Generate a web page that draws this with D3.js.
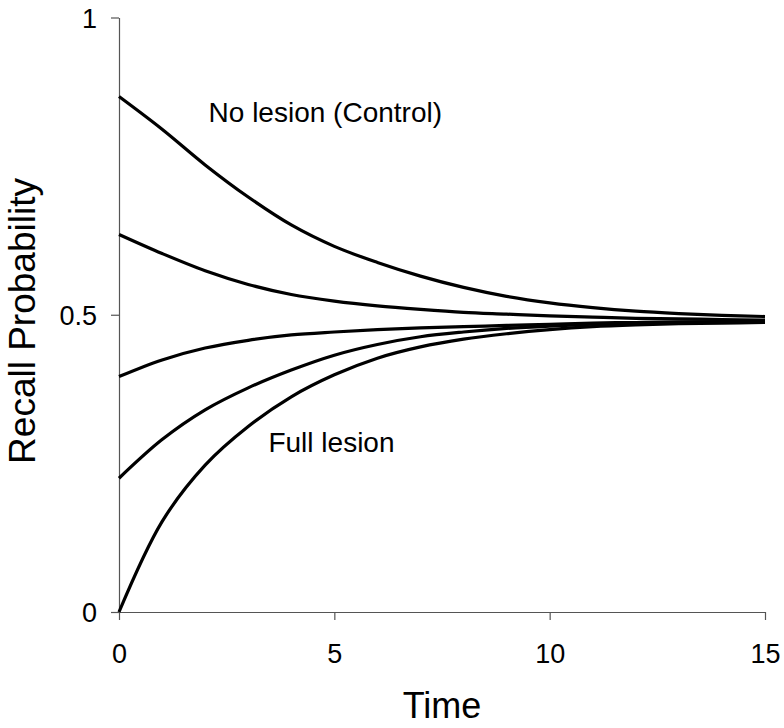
<!DOCTYPE html>
<html>
<head>
<meta charset="utf-8">
<script src="https://cdn.jsdelivr.net/npm/d3@7"></script>
<style>
  body { margin: 0; background: #fff; }
  text { font-family: "Liberation Sans", Arial, sans-serif; fill: #000; }
</style>
</head>
<body>
<svg id="chart" width="784" height="728"></svg>
<script>
// Data
const times = [0,1,2,3,4,5,6,7,8,9,10,11,12,13,14,15];
const noLesion   = [0.867,0.812,0.752,0.698,0.651,0.615,0.588,0.565,0.546,0.531,0.520,0.512,0.506,0.502,0.499,0.497];
const lesion25   = [0.635,0.603,0.574,0.551,0.534,0.523,0.515,0.509,0.504,0.501,0.498,0.496,0.494,0.493,0.492,0.491];
const lesion50   = [0.396,0.424,0.444,0.457,0.466,0.471,0.475,0.478,0.480,0.482,0.484,0.486,0.487,0.488,0.488,0.489];
const lesion75   = [0.225,0.290,0.340,0.377,0.407,0.432,0.450,0.463,0.471,0.477,0.481,0.484,0.486,0.487,0.488,0.488];
const fullLesion = [0.000,0.152,0.247,0.312,0.362,0.399,0.427,0.446,0.459,0.468,0.475,0.480,0.483,0.485,0.486,0.487];
const seriesList = [noLesion, lesion25, lesion50, lesion75, fullLesion];
const xTicks = [0,5,10,15];
const yTicks = [0,0.5,1];
const yTickLabels = ["0","0.5","1"];
const xTitle = "Time";
const yTitle = "Recall Probability";
const annotations = [
  {text: "No lesion (Control)", t: 2.08, v: 0.825},
  {text: "Full lesion", t: 3.47, v: 0.2685}
];

const svg = d3.select("#chart");
const x = d3.scaleLinear().domain([0,15]).range([119,765]);
const y = d3.scaleLinear().domain([0,1]).range([612,17.5]);

// Axes
const yAxis = d3.axisLeft(y).tickValues(yTicks).tickSize(8).tickSizeOuter(0)
  .tickFormat((d,i) => yTickLabels[i]);
const gy = svg.append("g").attr("transform", `translate(${x(0)},0)`).call(yAxis);
gy.selectAll("text").attr("x", -22).attr("dy", "0.36em")
  .style("font-size", "27px").style("font-family", "'Liberation Sans', Arial, sans-serif");

const xAxis = d3.axisBottom(x).tickValues(xTicks).tickSize(8).tickSizeOuter(0)
  .tickFormat(d3.format("d"));
const gx = svg.append("g").attr("transform", `translate(0,${y(0)})`).call(xAxis);
gx.selectAll("text").attr("y", 51).attr("dy", 0)
  .style("font-size", "27px").style("font-family", "'Liberation Sans', Arial, sans-serif");

svg.selectAll(".domain, .tick line").attr("stroke", "#555").attr("stroke-width", 1.2);
svg.selectAll(".tick text").attr("fill", "#000");

// Lines
const line = d3.line()
  .x((d,i) => x(times[i]))
  .y(d => y(d))
  .curve(d3.curveCatmullRom.alpha(0.5));

svg.append("g").selectAll("path").data(seriesList).join("path")
  .attr("d", line)
  .attr("fill", "none")
  .attr("stroke", "#000")
  .attr("stroke-width", 3.2)
  .attr("stroke-linejoin", "round");

// Annotations
svg.append("g").selectAll("text").data(annotations).join("text")
  .attr("x", d => x(d.t))
  .attr("y", d => y(d.v))
  .style("font-size", "28px")
  .text(d => d.text);

// Axis titles
svg.append("text")
  .attr("x", (x(0)+x(15))/2).attr("y", 718)
  .attr("text-anchor", "middle")
  .style("font-size", "36px")
  .text(xTitle);

svg.append("text")
  .attr("transform", `translate(35,321) rotate(-90)`)
  .attr("text-anchor", "middle")
  .style("font-size", "37px")
  .text(yTitle);
</script>
</body>
</html>
